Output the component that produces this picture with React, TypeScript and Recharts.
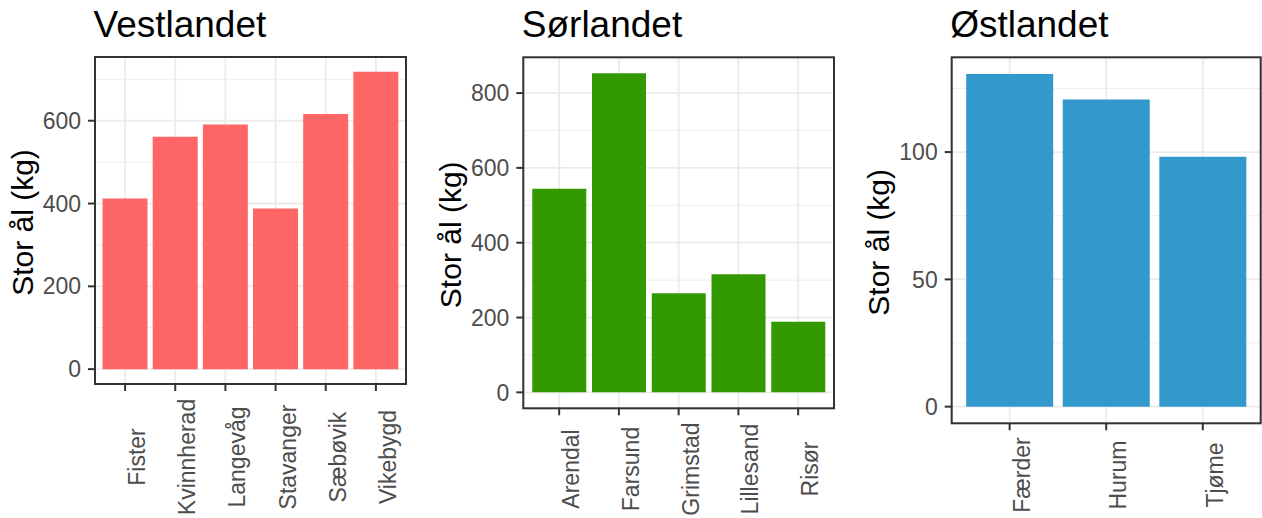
import { Bar, BarChart, CartesianGrid, XAxis, YAxis } from 'recharts';

const FONT = '"Liberation Sans", Arial, sans-serif';

// Vestlandet
const vestCategories = ['Fister', 'Kvinnherad', 'Langevåg', 'Stavanger', 'Sæbøvik', 'Vikebygd'];
const vestValues = [412, 561, 591, 388, 616, 718];
const vestTicks = [0, 200, 400, 600];
const vestMinor = [100, 300, 500, 700];

// Sørlandet
const sorCategories = ['Arendal', 'Farsund', 'Grimstad', 'Lillesand', 'Risør'];
const sorValues = [544, 853, 265, 316, 189];
const sorTicks = [0, 200, 400, 600, 800];
const sorMinor = [100, 300, 500, 700];

// Østlandet
const ostCategories = ['Færder', 'Hurum', 'Tjøme'];
const ostValues = [130.7, 120.7, 98.2];
const ostTicks = [0, 50, 100];
const ostMinor = [25, 75, 125];

const yTitle = 'Stor ål (kg)';

interface PanelBox {
  left: number;
  width: number;
  pl: number;
  pr: number;
  pt: number;
  pb: number;
  labelCenter: number;
}

interface PanelProps {
  title: string;
  categories: string[];
  values: number[];
  ticks: number[];
  minor: number[];
  color: string;
  box: PanelBox;
}

const HEIGHT = 518;

function Panel({ title, categories, values, ticks, minor, color, box }: PanelProps) {
  const data = categories.map((name, i) => ({ name, value: values[i] }));
  const max = Math.max(...values);
  const domain: [number, number] = [-0.05 * max, 1.05 * max];
  const plotW = box.pr - box.pl;
  const pad = (0.1 * plotW) / (categories.length + 0.2);
  const tickStroke = { stroke: '#333333', strokeWidth: 2 };

  const renderTick = (p: any) => {
    const tx = p.x + 20;
    const ty = box.labelCenter;
    return (
      <text
        x={tx}
        y={ty}
        transform={`rotate(-90, ${tx}, ${ty})`}
        textAnchor="middle"
        fill="#4D4D4D"
        fontSize={23}
        fontFamily={FONT}
      >
        {p.payload.value}
      </text>
    );
  };

  const titleX = box.pl - 62.5;
  const titleY = (box.pt + box.pb) / 2 + 2;

  return (
    <div style={{ position: 'absolute', left: box.left, top: 0 }}>
      <BarChart
        width={box.width}
        height={HEIGHT}
        data={data}
        margin={{ top: box.pt, right: box.width - box.pr, bottom: 0, left: 0 }}
        barCategoryGap="5%"
      >
        <CartesianGrid
          horizontalValues={minor}
          vertical={false}
          stroke="#EBEBEB"
          strokeWidth={0.9}
        />
        <CartesianGrid stroke="#EBEBEB" strokeWidth={1.8} />
        <XAxis
          dataKey="name"
          height={HEIGHT - box.pb}
          padding={{ left: pad, right: pad }}
          tickSize={7}
          tickLine={tickStroke}
          axisLine={false}
          tick={renderTick}
          interval={0}
        />
        <YAxis
          type="number"
          domain={domain}
          allowDataOverflow
          ticks={ticks}
          width={box.pl}
          tickSize={7}
          tickMargin={7}
          tickLine={tickStroke}
          axisLine={false}
          tick={{ fill: '#4D4D4D', fontSize: 23, fontFamily: FONT }}
        />
        <Bar dataKey="value" fill={color} isAnimationActive={false} />
        <rect
          x={box.pl}
          y={box.pt}
          width={box.pr - box.pl}
          height={box.pb - box.pt}
          fill="none"
          stroke="#333333"
          strokeWidth={2}
        />
        <text x={box.pl - 1.5} y={37} fontSize={37} fontFamily={FONT} fill="#000000">
          {title}
        </text>
        <text
          x={titleX}
          y={titleY}
          transform={`rotate(-90, ${titleX}, ${titleY})`}
          textAnchor="middle"
          fontSize={30}
          fontFamily={FONT}
          fill="#000000"
        >
          {yTitle}
        </text>
      </BarChart>
    </div>
  );
}

export default function App() {
  return (
    <div style={{ position: 'absolute', left: 0, top: 0, width: 1262, height: HEIGHT, background: '#ffffff' }}>
      <Panel
        title="Vestlandet"
        categories={vestCategories}
        values={vestValues}
        ticks={vestTicks}
        minor={vestMinor}
        color="#FF6666"
        box={{ left: 0, width: 420, pl: 95, pr: 406, pt: 57, pb: 384, labelCenter: 457 }}
      />
      <Panel
        title="Sørlandet"
        categories={sorCategories}
        values={sorValues}
        ticks={sorTicks}
        minor={sorMinor}
        color="#339900"
        box={{ left: 420, width: 420, pl: 103.3, pr: 414, pt: 57.3, pb: 408.3, labelCenter: 469 }}
      />
      <Panel
        title="Østlandet"
        categories={ostCategories}
        values={ostValues}
        ticks={ostTicks}
        minor={ostMinor}
        color="#3399CC"
        box={{ left: 840, width: 422, pl: 111.7, pr: 420.7, pt: 57.3, pb: 423.3, labelCenter: 475 }}
      />
    </div>
  );
}
